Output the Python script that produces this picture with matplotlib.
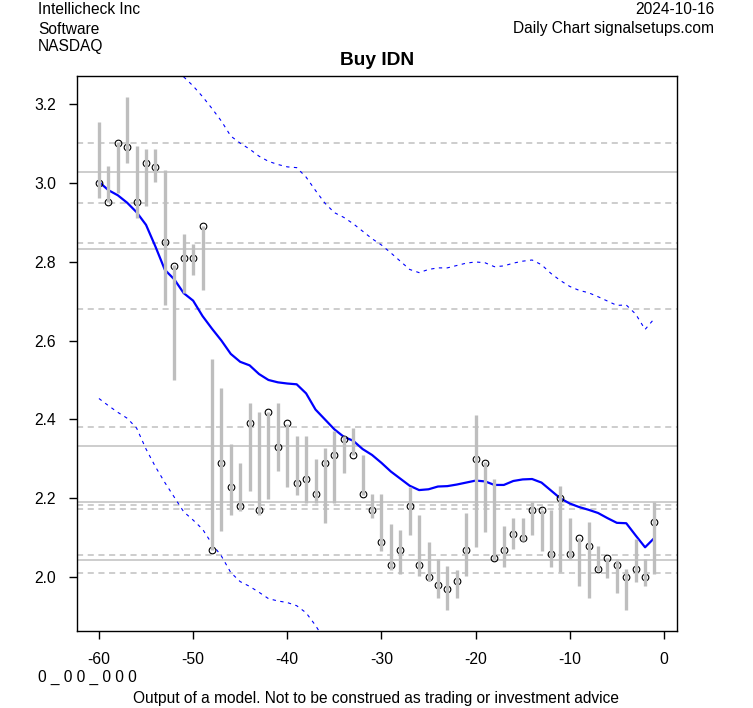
import matplotlib
matplotlib.use('Agg')
import matplotlib.pyplot as plt

plt.rcParams['font.family'] = ['Liberation Sans', 'DejaVu Sans']

# days before today
days = list(range(-60, 0))

# close / high / low
close = [3.00, 2.95, 3.10, 3.09, 2.95, 3.05, 3.04, 2.85, 2.79, 2.81,
         2.81, 2.89, 2.07, 2.29, 2.23, 2.18, 2.39, 2.17, 2.42, 2.33,
         2.39, 2.24, 2.25, 2.21, 2.29, 2.31, 2.35, 2.31, 2.21, 2.17,
         2.09, 2.03, 2.07, 2.18, 2.03, 2.00, 1.98, 1.97, 1.99, 2.07,
         2.30, 2.29, 2.05, 2.07, 2.11, 2.10, 2.17, 2.17, 2.06, 2.20,
         2.06, 2.10, 2.08, 2.02, 2.05, 2.03, 2.00, 2.02, 2.00, 2.14]
high = [3.153, 3.043, 3.103, 3.218, 3.094, 3.084, 3.084, 3.031, 2.792, 2.871,
        2.845, 2.891, 2.552, 2.480, 2.339, 2.290, 2.441, 2.419, 2.420, 2.441,
        2.389, 2.359, 2.359, 2.299, 2.328, 2.370, 2.359, 2.379, 2.309, 2.210,
        2.210, 2.134, 2.119, 2.230, 2.159, 2.089, 2.047, 2.029, 2.018, 2.164,
        2.411, 2.292, 2.250, 2.130, 2.151, 2.151, 2.191, 2.170, 2.170, 2.231,
        2.151, 2.099, 2.140, 2.079, 2.049, 2.047, 2.022, 2.098, 2.047, 2.191]
low = [2.961, 2.951, 2.974, 3.051, 2.910, 2.942, 3.001, 2.689, 2.499, 2.720,
       2.765, 2.729, 2.068, 2.117, 2.158, 2.168, 2.219, 2.159, 2.199, 2.269,
       2.230, 2.208, 2.189, 2.189, 2.138, 2.189, 2.265, 2.309, 2.209, 2.149,
       2.067, 2.018, 2.008, 2.106, 2.003, 1.991, 1.947, 1.917, 1.947, 2.003,
       2.077, 2.115, 2.047, 2.026, 2.071, 2.092, 2.106, 2.067, 2.027, 2.014,
       2.047, 1.978, 1.947, 2.016, 1.997, 1.959, 1.917, 1.988, 1.978, 2.009]

# model line
ma = [3.002, 2.981, 2.968, 2.949, 2.925, 2.893, 2.838, 2.779, 2.755, 2.720,
      2.701, 2.662, 2.630, 2.600, 2.566, 2.546, 2.537, 2.515, 2.500, 2.494,
      2.491, 2.489, 2.466, 2.425, 2.400, 2.375, 2.356, 2.346, 2.325, 2.310,
      2.290, 2.268, 2.250, 2.232, 2.221, 2.223, 2.230, 2.231, 2.235, 2.240,
      2.245, 2.243, 2.234, 2.234, 2.244, 2.248, 2.249, 2.240, 2.220, 2.200,
      2.187, 2.178, 2.171, 2.163, 2.150, 2.138, 2.137, 2.106, 2.076, 2.100]

# bands (only the visible parts)
upper_days = list(range(-52, 0))
upper = [3.300, 3.268, 3.245, 3.218, 3.188, 3.156, 3.118, 3.100, 3.085, 3.067,
         3.054, 3.046, 3.040, 3.038, 3.014, 2.980, 2.948, 2.924, 2.912, 2.896,
         2.877, 2.858, 2.842, 2.822, 2.801, 2.780, 2.772, 2.780, 2.784, 2.784,
         2.790, 2.796, 2.799, 2.797, 2.787, 2.789, 2.796, 2.801, 2.804, 2.792,
         2.770, 2.752, 2.737, 2.727, 2.721, 2.711, 2.700, 2.689, 2.690, 2.667,
         2.628, 2.656]
lower_days = list(range(-60, -35))
lower = [2.453, 2.435, 2.418, 2.403, 2.378, 2.325, 2.280, 2.240, 2.203, 2.166,
         2.145, 2.122, 2.085, 2.054, 2.012, 1.989, 1.977, 1.962, 1.946, 1.940,
         1.936, 1.928, 1.910, 1.878, 1.840]

# reference levels
solid_levels = [3.027, 2.832, 2.333, 2.192, 2.043]
dashed_levels = [3.100, 2.949, 2.847, 2.680, 2.381, 2.184, 2.174, 2.057, 2.010]

fig = plt.figure(figsize=(7.53, 7.08), dpi=100)
ax = fig.add_axes([0.1019, 0.1092, 0.7968, 0.783])

for lv in solid_levels:
    ax.axhline(lv, color='#c0c0c0', lw=1.1, zorder=1)
for lv in dashed_levels:
    ax.axhline(lv, color='#c0c0c0', lw=1.1, ls=(0, (4, 3)), zorder=1)

ax.plot(days, ma, color='#0000ff', lw=1.6, zorder=2)
ax.plot(upper_days, upper, color='#0000ff', lw=0.8, ls=(0, (3, 4)), zorder=2)
ax.plot(lower_days, lower, color='#0000ff', lw=0.8, ls=(0, (3, 4)), zorder=2)
ax.plot(days, close, 'o', mfc='none', mec='black', mew=0.8, ms=4.8, zorder=3)
ax.vlines(days, low, high, color='#bebebe', lw=2.4, zorder=4)

ax.set_xlim(-62.36, 1.36)
ax.set_ylim(1.8647, 3.2694)
ax.set_xticks([-60, -50, -40, -30, -20, -10, 0])
ax.set_xticklabels(['-60', '-50', '-40', '-30', '-20', '-10', '0'])
ax.set_yticks([2.0, 2.2, 2.4, 2.6, 2.8, 3.0, 3.2])
ax.set_yticklabels(['2.0', '2.2', '2.4', '2.6', '2.8', '3.0', '3.2'])
ax.tick_params(direction='out', length=6, width=1, labelsize=11.3, pad=9)
for s in ax.spines.values():
    s.set_linewidth(1)

ax.set_title('Buy IDN', fontsize=13.8, fontweight='bold', pad=8)

fs = 11.2
fig.text(38 / 753, 1 - 10 / 708, 'Intellicheck Inc', fontsize=fs, va='center')
fig.text(38 / 753, 1 - 29 / 708, 'Software', fontsize=fs, va='center')
fig.text(38 / 753, 1 - 47 / 708, 'NASDAQ', fontsize=fs, va='center')
fig.text(714 / 753, 1 - 10 / 708, '2024-10-16', fontsize=fs, va='center', ha='right')
fig.text(714 / 753, 1 - 29 / 708, 'Daily Chart signalsetups.com', fontsize=fs,
         va='center', ha='right')
fig.text(38 / 753, 1 - 677 / 708, '0 _ 0 0 _ 0 0 0', fontsize=fs, va='center')
fig.text(376 / 753, 1 - 698 / 708,
         'Output of a model. Not to be construed as trading or investment advice',
         fontsize=fs, va='center', ha='center')

fig.savefig('out.png', dpi=100)
